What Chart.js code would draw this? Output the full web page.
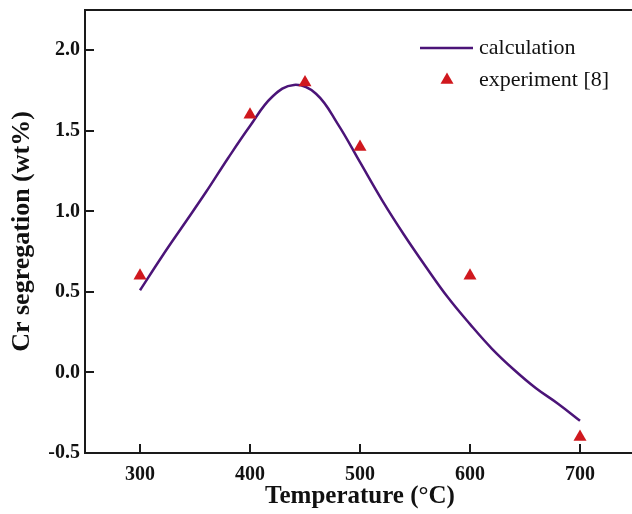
<!DOCTYPE html>
<html>
<head>
<meta charset="utf-8">
<script src="https://cdn.jsdelivr.net/npm/chart.js@4/dist/chart.umd.min.js"></script>
<style>
  html, body { margin: 0; padding: 0; background: #fff; overflow: hidden; }
  canvas { display: block; }
</style>
</head>
<body>
<canvas id="segChart" width="660" height="514" style="width:660px;height:514px"></canvas>
<script>
/* ======================
   DATA
====================== */
const calcTemps = [300, 320, 340, 360, 380, 400, 420, 440, 460, 480, 500, 520, 540, 560, 580, 600, 620, 640, 660, 680, 700];
const calcValues = [0.51, 0.72, 0.92, 1.12, 1.33, 1.53, 1.71, 1.785, 1.73, 1.54, 1.305, 1.07, 0.855, 0.655, 0.465, 0.30, 0.147, 0.017, -0.098, -0.194, -0.30];

const expTemps = [300, 400, 450, 500, 600, 700];
const expValues = [0.6, 1.6, 1.8, 1.4, 0.6, -0.4];

const xTicks = [300, 400, 500, 600, 700];
const yTicks = [-0.5, 0.0, 0.5, 1.0, 1.5, 2.0];

const seriesNames = ["calculation", "experiment [8]"];
const xTitle = "Temperature (\u00B0C)";
const yTitle = "Cr segregation (wt%)";

const LINE_COLOR = "#4b1478";
const MARK_COLOR = "#d0181e";
const AXIS_COLOR = "#1a1a1a";
const SERIF = "'Liberation Serif', 'Times New Roman', serif";

/* ======================
   FRAME + INWARD TICKS
====================== */
const framePlugin = {
  id: "frame",
  afterDraw(chart) {
    const { ctx, chartArea: a, scales } = chart;
    ctx.save();
    ctx.strokeStyle = AXIS_COLOR;
    ctx.lineWidth = 2;
    ctx.strokeRect(a.left, a.top, a.right - a.left, a.bottom - a.top);

    const len = 9;
    ctx.beginPath();
    xTicks.forEach(v => {
      const px = Math.round(scales.x.getPixelForValue(v));
      ctx.moveTo(px, a.bottom);
      ctx.lineTo(px, a.bottom - len);
    });
    yTicks.forEach(v => {
      const py = Math.round(scales.y.getPixelForValue(v));
      ctx.moveTo(a.left, py);
      ctx.lineTo(a.left + len, py);
    });
    ctx.stroke();
    ctx.restore();
  }
};

/* ======================
   LEGEND (inside plot)
====================== */
const legendPlugin = {
  id: "insideLegend",
  afterDraw(chart) {
    const { ctx, chartArea: a, scales } = chart;
    const x0 = scales.x.getPixelForValue(700) - 160;
    const y0 = a.top + 38;
    const gap = 32;
    ctx.save();
    ctx.font = "22px " + SERIF;
    ctx.fillStyle = "#111";
    ctx.textBaseline = "middle";

    ctx.strokeStyle = LINE_COLOR;
    ctx.lineWidth = 2.5;
    ctx.beginPath();
    ctx.moveTo(x0, y0);
    ctx.lineTo(x0 + 53, y0);
    ctx.stroke();
    ctx.fillText(seriesNames[0], x0 + 59, y0);

    const tx = x0 + 27, ty = y0 + gap, r = 7.5;
    ctx.fillStyle = MARK_COLOR;
    ctx.beginPath();
    ctx.moveTo(tx, ty - r);
    ctx.lineTo(tx + r * Math.sin(Math.PI * 2 / 3), ty + r / 2);
    ctx.lineTo(tx - r * Math.sin(Math.PI * 2 / 3), ty + r / 2);
    ctx.closePath();
    ctx.fill();
    ctx.fillStyle = "#111";
    ctx.fillText(seriesNames[1], x0 + 59, ty);
    ctx.restore();
  }
};

/* ======================
   CHART
====================== */
new Chart(document.getElementById("segChart"), {
  type: "scatter",
  data: {
    datasets: [
      {
        label: seriesNames[0],
        data: calcTemps.map((t, i) => ({ x: t, y: calcValues[i] })),
        showLine: true,
        borderColor: LINE_COLOR,
        borderWidth: 2.5,
        pointRadius: 0,
        tension: 0.4,
        order: 2
      },
      {
        label: seriesNames[1],
        data: expTemps.map((t, i) => ({ x: t, y: expValues[i] })),
        showLine: false,
        pointStyle: "triangle",
        pointRadius: 7.5,
        backgroundColor: MARK_COLOR,
        borderColor: MARK_COLOR,
        borderWidth: 0,
        order: 1
      }
    ]
  },
  options: {
    responsive: false,
    animation: false,
    devicePixelRatio: 1,
    layout: { padding: { top: 10, right: 25, left: 0, bottom: 0 } },
    plugins: {
      legend: { display: false },
      tooltip: { enabled: false }
    },
    scales: {
      x: {
        type: "linear",
        min: 250,
        max: 750,
        afterBuildTicks: s => { s.ticks = xTicks.map(v => ({ value: v })); },
        afterFit: s => { s.height = 61; s.paddingLeft = 0; s.paddingRight = 0; },
        grid: { display: false, drawTicks: false },
        border: { display: false },
        ticks: {
          padding: 10,
          color: "#111",
          font: { family: SERIF, size: 20, weight: "bold" },
          callback: v => String(v)
        },
        title: {
          display: true,
          text: xTitle,
          color: "#111",
          padding: { top: 0, bottom: 2 },
          font: { family: SERIF, size: 25, weight: "bold" }
        }
      },
      y: {
        type: "linear",
        min: -0.5,
        max: 2.25,
        afterBuildTicks: s => { s.ticks = yTicks.map(v => ({ value: v })); },
        afterFit: s => { s.width = 85; s.paddingTop = 0; s.paddingBottom = 0; },
        grid: { display: false, drawTicks: false },
        border: { display: false },
        ticks: {
          padding: 5,
          color: "#111",
          font: { family: SERIF, size: 20, weight: "bold" },
          callback: v => v.toFixed(1)
        },
        title: {
          display: true,
          text: yTitle,
          color: "#111",
          padding: { top: 7, bottom: 0 },
          font: { family: SERIF, size: 26, weight: "bold" }
        }
      }
    }
  },
  plugins: [framePlugin, legendPlugin]
});
</script>
</body>
</html>
